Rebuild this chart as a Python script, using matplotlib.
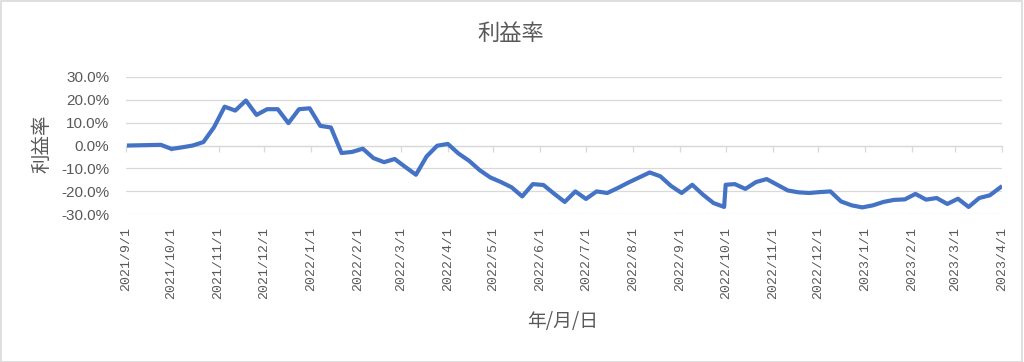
import numpy as np
import pandas as pd
import matplotlib
matplotlib.use("Agg")
import matplotlib.pyplot as plt
import matplotlib.dates as mdates
from matplotlib.ticker import PercentFormatter, MultipleLocator
from matplotlib.patches import Rectangle

plt.rcParams['font.family'] = ['Noto Sans CJK JP', 'DejaVu Sans']
plt.rcParams['axes.unicode_minus'] = False

# weekly (Friday) observations, plus one extra point right after the 2022/9/30 drop
weekly_dates = pd.date_range("2021-09-03", "2023-03-31", freq="7D")
extra_date = pd.Timestamp("2022-10-01")

weekly_rate = [
    0.0, 0.1, 0.2, 0.3, -1.5, -0.8, 0.0, 1.5, 8.0, 17.0,
    15.3, 19.7, 13.4, 15.9, 15.9, 9.8, 15.9, 16.3, 8.6, 7.9,
    -3.3, -2.8, -1.4, -5.5, -7.3, -5.9, -9.4, -12.8, -4.8, -0.1,
    0.7, -3.5, -6.7, -10.8, -14.0, -16.0, -18.3, -22.3, -16.9, -17.3,
    -21.1, -24.7, -20.1, -23.4, -20.1, -20.8, -18.6, -16.2, -14.0, -11.8,
    -13.5, -17.7, -20.8, -17.2, -21.5, -25.2, -26.9, -16.9, -19.0, -16.0,
    -14.7, -17.2, -19.7, -20.5, -20.8, -20.4, -20.1, -24.5, -26.2, -27.1,
    -26.2, -24.7, -23.8, -23.6, -21.2, -23.7, -23.0, -25.6, -23.3, -26.9,
    -23.0, -21.8, -18.3,
]
extra_rate = -17.2

s = pd.Series(weekly_rate, index=weekly_dates)
s[extra_date] = extra_rate
s = s.sort_index()

grey = "#595959"
grid = "#d9d9d9"

fig = plt.figure(figsize=(10.24, 3.62), dpi=100)
fig.patches.append(Rectangle((0.0005, 0.001), 0.998, 0.997, transform=fig.transFigure,
                             fill=False, edgecolor=grid, linewidth=1.2))
ax = fig.add_axes([0.1230, 0.4088, 0.8555, 0.3785])

ax.plot(s.index, s.values, color="#4472C4", linewidth=3.0, zorder=3,
        solid_joinstyle="round")

ax.set_xlim(pd.Timestamp("2021-09-01"), pd.Timestamp("2023-04-01"))
ax.set_ylim(-30, 30)
ax.yaxis.set_major_locator(MultipleLocator(10))
ax.yaxis.set_major_formatter(PercentFormatter(decimals=1))
ax.grid(axis="y", color=grid, linewidth=0.9)
ax.set_axisbelow(True)
for sp in ax.spines.values():
    sp.set_visible(False)

ax.xaxis.set_major_locator(mdates.MonthLocator())
ax.xaxis.set_major_formatter(
    plt.FuncFormatter(lambda v, p: "{d.year}/{d.month}/{d.day}".format(d=mdates.num2date(v))))
ax.tick_params(axis="x", length=0, pad=9.5, labelrotation=90, labelcolor=grey)
for lab in ax.get_xticklabels():
    lab.set_fontfamily("Liberation Mono")
    lab.set_fontsize(9.5)
    lab.set_verticalalignment("top")
ax.tick_params(axis="y", length=0, pad=12, labelcolor=grey)
for lab in ax.get_yticklabels():
    lab.set_fontfamily("Liberation Sans")
    lab.set_fontsize(11)

# axis line with month ticks sits at 0%, ticks hang below it
sec = ax.secondary_xaxis(0.5)
sec.xaxis.set_major_locator(mdates.MonthLocator())
sec.tick_params(axis="x", which="both", top=False, bottom=True, direction="out",
                length=4.5, width=0.9, color=grid, labeltop=False, labelbottom=False)
for sp in sec.spines.values():
    sp.set_color(grid)
    sp.set_linewidth(0.9)
sec.set_xticklabels([])

fig.text(0.499, 0.908, "利益率", ha="center", va="center", fontsize=16, color=grey)
fig.text(0.041, 0.602, "利益率", ha="center", va="center", rotation=90, fontsize=14, color=grey)
fig.text(0.549, 0.113, "年/月/日", ha="center", va="center", fontsize=13.5, color=grey)

fig.savefig("out.png", dpi=100)
